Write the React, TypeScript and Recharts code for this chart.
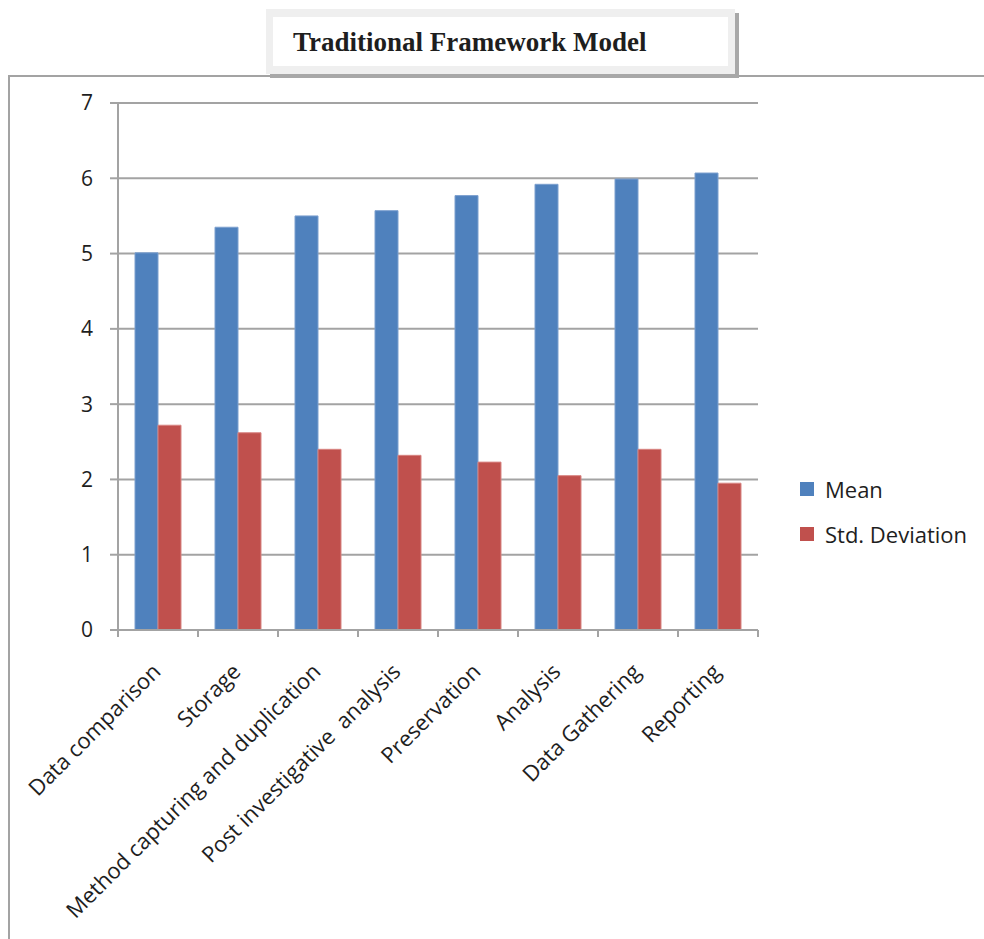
import React from 'react';
import { BarChart, Bar, XAxis, YAxis, CartesianGrid, Legend } from 'recharts';

const categories = [
  'Data comparison',
  'Storage',
  'Method capturing and duplication',
  'Post investigative  analysis',
  'Preservation',
  'Analysis',
  'Data Gathering',
  'Reporting',
];
const meanValues = [5.01, 5.35, 5.5, 5.57, 5.77, 5.92, 5.99, 6.07];
const stdValues = [2.72, 2.62, 2.4, 2.32, 2.23, 2.05, 2.4, 1.95];
const yTicks = [0, 1, 2, 3, 4, 5, 6, 7];

const data = categories.map((name, i) => ({
  name,
  mean: meanValues[i],
  std: stdValues[i],
}));

const FONT = '"Open Sans", sans-serif';
const GRID = '#a3a3a3';

const XTick = (props: any) => {
  const { x, y, payload, index, visibleTicksCount } = props;
  const off = payload.offset || 0;
  const axisY = y;
  const tx = x + 4;
  const ty = axisY + 43;
  return (
    <g>
      <line x1={x - off} y1={axisY} x2={x - off} y2={axisY + 7} stroke={GRID} strokeWidth={2} />
      {index === visibleTicksCount - 1 && (
        <line x1={x + off} y1={axisY} x2={x + off} y2={axisY + 7} stroke={GRID} strokeWidth={2} />
      )}
      <text
        x={tx}
        y={ty}
        textAnchor="end"
        transform={`rotate(-45, ${tx}, ${ty})`}
        fontFamily={FONT}
        fontSize={22}
        fill="#1e1e1e"
        style={{ whiteSpace: 'pre' }}
      >
        {payload.value}
      </text>
    </g>
  );
};

const renderLegend = (props: any) => {
  const { payload } = props;
  return (
    <div style={{ fontFamily: FONT, fontSize: 22, color: '#1e1e1e' }}>
      {payload.map((entry: any, i: number) => (
        <div key={i} style={{ display: 'flex', alignItems: 'center', height: 45 }}>
          <span style={{ display: 'inline-block', width: 14, height: 14, background: entry.color, marginRight: 11 }} />
          <span>{entry.value}</span>
        </div>
      ))}
    </div>
  );
};

export default function App() {
  return (
    <div style={{ position: 'fixed', left: 0, top: 0, width: 984, height: 939, background: '#fff', overflow: 'hidden' }}>
      <div style={{ position: 'absolute', left: 8, top: 75, width: 1000, height: 900, borderLeft: `2px solid ${GRID}`, borderTop: `2px solid ${GRID}` }} />
      <div
        style={{
          position: 'absolute',
          left: 266,
          top: 9,
          width: 469,
          height: 65,
          background: '#efefef',
          boxShadow: '4px 4px 0 #a8a8a8',
        }}
      >
        <div
          style={{
            position: 'absolute',
            left: 7,
            top: 8,
            width: 455,
            height: 49,
            background: '#fff',
          }}
        />
        <div
          style={{
            position: 'absolute',
            left: 27,
            top: 15,
            fontFamily: '"Liberation Serif", "Times New Roman", serif',
            fontWeight: 'bold',
            fontSize: 27,
            lineHeight: '36px',
            color: '#1e1e1e',
            whiteSpace: 'nowrap',
          }}
        >
          Traditional Framework Model
        </div>
      </div>
      <div style={{ position: 'absolute', left: 0, top: 0 }}>
        <BarChart
          width={984}
          height={939}
          data={data}
          margin={{ top: 103, right: 226, bottom: 19, left: 48 }}
          barCategoryGap={17}
          barGap={0}
        >
          <CartesianGrid vertical={false} stroke={GRID} strokeWidth={2} />
          <XAxis
            dataKey="name"
            height={290}
            interval={0}
            axisLine={{ stroke: GRID, strokeWidth: 2 }}
            tickLine={false}
            tickSize={0}
            tickMargin={0}
            tick={<XTick />}
          />
          <YAxis
            width={70}
            domain={[0, 7]}
            ticks={yTicks}
            interval={0}
            axisLine={{ stroke: GRID, strokeWidth: 2 }}
            tickLine={{ stroke: GRID, strokeWidth: 2 }}
            tickSize={8}
            tickMargin={17}
            tick={{ fontFamily: FONT, fontSize: 21, fill: '#1e1e1e' }}
          />
          <Legend
            layout="vertical"
            align="center"
            verticalAlign="middle"
            content={renderLegend}
            wrapperStyle={{ position: 'absolute', left: 800, top: 466, width: 184 }}
          />
          <Bar dataKey="mean" name="Mean" fill="#4F81BD" stroke="#7da0cf" strokeWidth={1} isAnimationActive={false} />
          <Bar dataKey="std" name="Std. Deviation" fill="#C0504D" stroke="#d88583" strokeWidth={1} isAnimationActive={false} />
        </BarChart>
      </div>
    </div>
  );
}
